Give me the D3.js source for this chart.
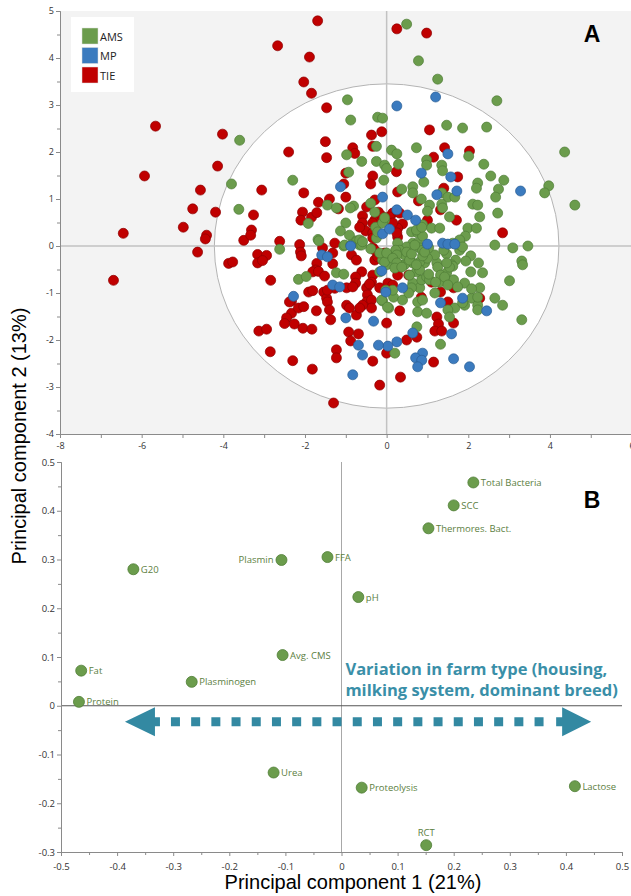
<!DOCTYPE html>
<html>
<head>
<meta charset="utf-8">
<script src="https://cdn.jsdelivr.net/npm/d3@7"></script>
<style>
  body { margin: 0; background: #ffffff; }
  svg { display: block; }
  .tick text { font-family: "Open Sans", sans-serif; fill: #333; }
</style>
</head>
<body>
<div class="chart"></div>
<script>
"use strict";

// ---- Panel A: PCA scores, by farm type ----
var groups = ["AMS", "MP", "TIE"];
var groupColors = { AMS: "#6b9c4c", MP: "#3b7bbf", TIE: "#c00000" };
var groupStroke = { AMS: "#4f7d36", MP: "#2a5d93", TIE: "#8c0000" };

var tiePoints = [
  [-1.69,4.79],[-2.67,4.26],[-1.89,4.02],[-2.03,3.49],[-1.84,3.25],[-5.66,2.55],[-4.02,2.38],[-2.40,2.0],
  [-4.14,1.70],[-5.93,1.49],[-4.56,1.19],[-3.06,1.19],[-2.03,1.13],[-4.75,0.79],[-4.19,0.72],[-3.26,0.66],
  [-1.67,0.93],[-2.06,0.72],[0.25,4.62],[0.98,4.53],
  [-6.45,0.27],[-4.98,0.40],[-4.41,0.23],[-4.44,0.15],[-4.63,-0.13],[-6.69,-0.73],[-3.87,-0.37],[-3.77,-0.34],
  [-3.5,0.12],[-3.31,0.34],[-3.33,0.23],[-3.16,-0.18],[-3.16,-0.36],[-2.94,-0.2],[-3.04,-0.31],[-2.84,-0.73],
  [-2.62,0.1],[-2.1,0.55],[-1.84,0.61],[-1.71,0.71],[-2.13,0.03],[-2.11,-0.13],[-2.09,-0.21],[-1.71,-0.37],
  [-1.74,-0.51],[-1.81,-0.55],[-1.91,-0.98],[-1.81,-0.95],[-2.33,-1.17],[-2.33,-1.43],[-2.16,-1.32],[-2.03,-1.29],
  [-1.72,-1.38],[-2.45,-1.53],[-2.5,-1.65],[-2.26,-1.66],[-2.05,-1.75],[-1.83,-1.77],[-3.13,-1.81],[-2.94,-1.77],
  [-2.85,-2.25],[-2.30,-2.44],[-1.82,-2.62],
  [-1.47,2.94],[-1.5,2.22],[-1.47,1.88],[-0.37,2.36],[-0.12,2.43],[-0.83,2.09],[-0.78,1.97],[-0.34,2.12],
  [-1.0,1.55],[-0.34,1.49],[-0.39,1.32],[-1.05,1.32],[-1.0,1.04],[-1.40,1.0],[-1.18,0.79],[-1.57,-0.04],
  [-0.49,0.83],[-0.59,0.64],[-0.59,0.49],[-0.51,0.32],[-0.29,0.55],[-0.12,0.64],[-0.29,0.98],
  [1.05,2.47],[1.15,1.89],[1.42,2.09],[2.03,2.02],[0.24,1.58],[1.74,1.47],[1.40,1.23],[0.27,1.15],
  [0.78,0.96],[1.32,0.77],[1.71,0.55],[0.15,0.70],[1.0,0.55],[0.39,0.47],[0.27,0.38],[0.27,0.19],[2.84,0.28],
  [2.28,-1.11],[1.64,-1.64],[1.5,-1.19],[1.32,-0.98],[1.64,-0.89],[1.23,-1.51],[1.27,-1.66],[1.18,-1.81],
  [1.35,-1.81],[0.85,-1.09],[0.74,-1.94],[0.49,-2.0],[0.0,-2.28],[1.15,-2.47],[0.34,-2.79],[-0.17,-2.96],
  [0.0,-1.64],[0.32,-1.38],[0.03,-0.79],[0.15,-0.83],[0.27,-0.62],[0.54,-0.62],[1.1,-0.77],
  [-1.32,-0.15],[-1.32,-0.38],[-1.67,-0.54],[-1.52,-0.64],[-1.54,-0.98],[-1.47,-1.11],[-1.45,-1.19],
  [-1.40,-1.36],[-1.37,-1.57],[-2.38,-1.19],[-1.30,-3.34],[-1.23,-2.21],[-1.23,-2.38],[-0.98,-0.89],
  [-1.27,-0.90],[-0.98,-1.26],[-0.91,-1.32],[-0.74,-1.47],[-0.93,-1.83],[-0.69,-1.87],[-0.88,-2.02],
  [-0.34,-2.45],[-0.86,-0.19],[-0.74,-0.30],[-0.61,-0.55],[-0.76,-0.66],[-0.76,-0.79],[-0.83,-0.87],
  [-0.49,-0.89],[-0.47,-1.04],[-0.49,-1.19],[-0.37,-1.15],[-0.37,-1.32],[-0.59,-1.26],[-0.66,-1.32],
  [-0.34,-0.62],[-0.37,-0.77],[-0.42,-0.81],[-0.29,-0.30],[-0.22,-0.23],[-0.05,-0.15],[-0.34,-0.04],
  [-0.2,0.72],[0.07,0.62],[0.32,0.70],[-0.17,-0.89],[-1.45,-0.94],[-1.27,0.06],[-0.29,-0.09],
  [-0.34,0.28],[-0.34,0.17],[-0.66,0.40],[-0.34,0.49],[0.15,0.49],[0.25,0.28]
];

var amsPoints = [
  [-3.6,2.25],[-3.8,1.32],[-2.30,1.40],[-3.62,0.78],[-2.62,-0.07],[-2.16,-0.71],[-1.97,-0.65],[-1.92,0.48],
  [-1.68,0.14],[0.49,4.72],[0.78,3.94],[1.25,3.55],[2.70,3.09],[4.36,2.0],[3.97,1.28],[3.87,1.13],[4.61,0.87],
  [-0.96,3.11],[-0.88,2.68],[-0.22,2.74],[-0.10,2.72],[-0.98,1.94],[-0.61,1.8],[-0.25,1.80],[-0.25,2.12],
  [-0.05,1.72],[-0.93,1.57],[-1.45,0.87],[-1.23,0.81],[-0.81,0.85],[-0.89,0.81],[-0.39,0.91],[-0.29,0.72],
  [-1.0,0.49],[-1.13,0.32],[-0.91,0.23],[-0.74,0.11],[-1.05,0.0],[-0.27,0.40],[-0.05,0.55],[-0.07,1.4],
  [1.47,2.57],[1.86,2.51],[2.45,2.53],[0.73,2.09],[0.12,2.04],[0.25,1.96],[2.01,1.91],[2.38,1.74],[0.29,1.74],
  [0.0,1.65],[0.98,1.83],[0.98,1.72],[1.35,1.72],[1.37,1.6],[2.55,1.49],[2.87,1.40],[0.91,1.36],[2.23,1.34],
  [2.2,1.23],[2.74,1.21],[2.67,1.04],[0.64,1.26],[0.64,1.13],[0.37,1.21],[1.35,1.13],[1.50,1.04],[1.67,1.04],
  [0.85,1.0],[1.05,0.87],[1.35,0.89],[1.37,0.81],[2.11,0.89],[2.23,0.87],[1.0,0.74],[2.72,0.70],[1.54,0.62],
  [2.28,0.62],[0.88,0.45],[1.1,0.38],[0.61,0.3],[1.99,0.38],[2.2,0.38],[1.93,0.21],[1.79,0.06],[0.76,0.28],
  [0.64,0.06],[2.65,0.02],[3.09,-0.04],[3.46,0.0],[0.27,0.06],
  [3.31,-0.32],[3.33,-0.40],[3.01,-0.74],[2.65,-1.11],[2.84,-1.26],[3.31,-1.57],[2.28,-0.89],[2.35,-0.57],
  [2.06,-0.55],[2.25,-0.36],[2.06,-0.21],[1.94,-0.32],[1.91,-0.79],[2.08,-1.11],[1.91,-1.26],[2.23,-1.26],
  [2.23,-1.36],[1.67,-1.32],[1.50,-1.36],[1.54,-1.51],[1.32,-2.09],[1.64,-0.72],[1.18,-1.0],[0.76,-1.40],
  [0.98,-1.43],[0.76,-1.19],[0.88,-1.15],[0.74,-1.72],[0.2,-2.28],[0.05,-1.32],[-0.1,-1.17],[0.0,-0.96],
  [0.17,-1.09],[0.39,-1.15],[0.64,-0.79],[0.81,-0.89],[1.47,-0.57],[1.3,-0.77],[0.86,-0.72],[1.69,-0.3],
  [1.59,-0.40],[1.23,-0.36],[1.25,-0.45],[1.79,-0.09],[1.79,0.02],[1.47,-0.17],[1.18,-0.19],[0.93,-0.36],
  [0.81,-0.34],[0.64,-0.36],[0.44,-0.40],[0.32,-0.4],[0.73,-0.55],[0.98,-0.66],[1.05,-0.72],[0.0,-0.40],
  [-0.1,-0.30],[0.44,-0.19],[0.07,-0.23],
  [-1.23,-0.57],[-1.05,-0.6],[-1.66,0.11],[-0.74,0.09],[-0.66,0.02],[-0.17,-0.55],[-0.12,-1.15],[0.02,-1.30],
  [-0.05,-0.34],[-0.17,-0.15],
  [1.3,0.38],[1.79,0.13],[1.86,-0.02],[1.62,0.06],[1.62,-0.43],[1.54,-0.45],[1.47,-0.36],[1.40,-0.09],
  [1.32,-0.62],[1.42,-0.66],[1.0,-0.26],[0.88,-0.21],[1.03,-0.04],[0.76,0.06],[0.81,-0.04],[0.88,-0.09],
  [0.93,-0.13],[0.49,-0.02],[0.32,-0.09],[0.22,-0.09],[0.25,-0.19],[0.49,-0.13],[0.56,-0.30],[0.81,-0.51],
  [1.03,-0.6],[1.20,-0.77],[0.73,-0.40],[0.56,-0.62],[0.61,-0.89],[1.5,-0.83],[1.74,-0.87],[1.86,-1.21],
  [2.23,-1.09],[2.08,-0.91],[0.54,-1.00],[0.15,-0.94],[-0.02,-0.94],
  [-1.03,0.02],[-0.88,0.02],[-0.39,-0.06],[-0.66,0.13],[-0.61,0.02],[-0.59,0.09],[-0.25,0.17],[-0.22,0.30],
  [-0.10,0.49],[-0.05,0.60],[0.0,-0.15],[0.15,-0.26],[0.25,-0.36],[0.2,-0.47],[0.37,-0.45],[0.61,-0.17],
  [0.69,0.02],[0.88,0.21],[0.73,0.34],[0.86,0.40]
];

var mpPoints = [
  [1.2,3.17],[0.25,2.98],[3.28,1.17],[-2.28,-1.07],[-1.59,-0.19],[-1.45,-0.23],[-1.13,1.26],[-0.1,1.04],
  [-0.1,0.26],[-0.88,0.0],[1.50,1.96],[0.85,1.55],[1.57,1.47],[1.72,1.17],[1.23,1.09],[0.25,0.77],
  [0.51,0.66],[0.71,0.55],[0.07,0.36],[1.0,0.04],[1.37,0.06],[1.50,0.04],[1.67,0.04],[2.45,-1.38],
  [1.86,-1.11],[1.59,-1.87],[1.64,-2.40],[2.03,-2.57],[1.32,-1.21],[0.64,-1.85],[0.25,-2.04],[0.03,-2.13],
  [0.88,-2.28],[0.71,-2.38],[0.86,-2.43],[0.76,-2.57],[0.39,-0.89],[-0.02,-0.98],[-1.32,-0.83],[-1.15,-0.87],
  [-1.0,-1.53],[-0.32,-1.6],[-0.69,-2.11],[-0.59,-2.32],[-0.2,-2.11],[-0.83,-2.74],[-0.12,-0.53]
];

var ellipseRx = 4.22;  // circle of the score plot, in PC1 units
var ellipseRy = 3.45;  // in PC2 units

// ---- Panel B: loadings ----
var loadingNames = ["Total Bacteria", "SCC", "Thermores. Bact.", "FFA", "pH", "Plasmin", "G20", "Avg. CMS",
  "Fat", "Protein", "Plasminogen", "Urea", "Proteolysis", "Lactose", "RCT"];
var pc1Loadings = [0.235, 0.20, 0.155, -0.025, 0.03, -0.107, -0.371, -0.105, -0.464, -0.468, -0.267, -0.121, 0.036, 0.416, 0.151];
var pc2Loadings = [0.458, 0.411, 0.364, 0.305, 0.223, 0.299, 0.280, 0.104, 0.072, 0.008, 0.049, -0.137, -0.168, -0.165, -0.286];
var labelSide = ["right", "right", "right", "right", "right", "left", "right", "right",
  "right", "right", "right", "right", "right", "right", "top"];

var arrowFrom = -0.386, arrowTo = 0.445, arrowY = -0.033;
var noteLines = ["Variation in farm type (housing,", "milking system, dominant breed)"];

var width = 631, height = 896;
var svg = d3.select(".chart").append("svg")
  .attr("width", width)
  .attr("height", height);

function fmt(d) {
  return d === 0 ? "0" : String(+d.toFixed(1));
}

drawScores();
drawLoadings();

function drawScores() {
  var x = d3.scaleLinear().domain([-8, 6]).range([60, 631.6]);
  var y = d3.scaleLinear().domain([5, -4]).range([11, 434]);
  var g = svg.append("g");

  // grey plot area
  g.append("rect")
    .attr("x", x(-8)).attr("y", y(5))
    .attr("width", width - x(-8)).attr("height", y(-4) - y(5))
    .style("fill", "#f3f3f3");

  // white circle
  g.append("ellipse")
    .attr("cx", x(0)).attr("cy", y(0))
    .attr("rx", x(ellipseRx) - x(0)).attr("ry", y(0) - y(ellipseRy))
    .style("fill", "#ffffff")
    .style("stroke", "#b4b4b4")
    .style("stroke-width", 1);

  // zero lines
  g.append("line")
    .attr("x1", x(0)).attr("x2", x(0)).attr("y1", y(5)).attr("y2", y(-4))
    .style("stroke", "#c2c2c2").style("stroke-width", 1.5);
  g.append("line")
    .attr("x1", x(-8)).attr("x2", width).attr("y1", y(0)).attr("y2", y(0))
    .style("stroke", "#c2c2c2").style("stroke-width", 1.5);

  // axes
  var yMinor = g.append("g").attr("transform", "translate(" + x(-8) + ",0)")
    .call(d3.axisLeft(y).tickValues(d3.range(-3.5, 5, 1)).tickSize(3).tickFormat(""));
  var yMajor = g.append("g").attr("transform", "translate(" + x(-8) + ",0)")
    .call(d3.axisLeft(y).tickValues(d3.range(-4, 5.1, 1)).tickSize(4).tickSizeOuter(0).tickFormat(fmt));
  var xMajor = g.append("g").attr("transform", "translate(0," + y(-4) + ")")
    .call(d3.axisBottom(x).tickValues(d3.range(-8, 6.1, 1)).tickSize(4).tickSizeOuter(0)
      .tickFormat(function (d) { return d % 2 === 0 ? fmt(d) : ""; }));
  [yMinor, yMajor, xMajor].forEach(function (a) {
    a.select(".domain").style("stroke", "#8a8a8a");
    a.selectAll(".tick line").style("stroke", "#8a8a8a");
    a.selectAll("text").style("font-size", "9px");
  });
  yMajor.selectAll("text").attr("x", -6);
  xMajor.selectAll("text").attr("y", 9);

  // points
  var all = [];
  tiePoints.forEach(function (p) { all.push({ g: "TIE", x: p[0], y: p[1] }); });
  amsPoints.forEach(function (p) { all.push({ g: "AMS", x: p[0], y: p[1] }); });
  mpPoints.forEach(function (p) { all.push({ g: "MP", x: p[0], y: p[1] }); });

  g.append("g").selectAll("circle")
    .data(all)
    .enter().append("circle")
    .attr("cx", function (d) { return x(d.x); })
    .attr("cy", function (d) { return y(d.y); })
    .attr("r", 5)
    .style("fill", function (d) { return groupColors[d.g]; })
    .style("stroke", function (d) { return groupStroke[d.g]; })
    .style("stroke-width", 0.7);

  // legend
  var leg = g.append("g").attr("transform", "translate(71,17)");
  leg.append("rect").attr("width", 63).attr("height", 75).style("fill", "#ffffff");
  groups.forEach(function (name, i) {
    leg.append("rect")
      .attr("x", 11).attr("y", 11 + i * 19.5)
      .attr("width", 16).attr("height", 16)
      .style("fill", groupColors[name])
      .style("stroke", "#dddddd").style("stroke-width", 0.5);
    leg.append("text")
      .attr("x", 29).attr("y", 23.5 + i * 19.5)
      .style("font-family", "'Open Sans', sans-serif")
      .style("font-size", "11px")
      .style("fill", "#222")
      .text(name);
  });

  g.append("text")
    .attr("x", 592).attr("y", 42)
    .attr("text-anchor", "middle")
    .style("font-family", "'Liberation Sans', Arial, sans-serif")
    .style("font-weight", "bold")
    .style("font-size", "23px")
    .text("A");
}

function drawLoadings() {
  var x = d3.scaleLinear().domain([-0.5, 0.5]).range([61, 622]);
  var y = d3.scaleLinear().domain([0.5, -0.3]).range([462, 852]);
  var g = svg.append("g");

  g.append("line")
    .attr("x1", x(0)).attr("x2", x(0)).attr("y1", y(0.5)).attr("y2", y(-0.3))
    .style("stroke", "#a8a8a8").style("stroke-width", 1);
  g.append("line")
    .attr("x1", x(-0.5)).attr("x2", x(0.5)).attr("y1", y(0)).attr("y2", y(0))
    .style("stroke", "#555555").style("stroke-width", 1);

  var yMinor = g.append("g").attr("transform", "translate(" + x(-0.5) + ",0)")
    .call(d3.axisLeft(y).tickValues(d3.range(-0.25, 0.5, 0.1)).tickSize(3).tickFormat(""));
  var yMajor = g.append("g").attr("transform", "translate(" + x(-0.5) + ",0)")
    .call(d3.axisLeft(y).tickValues(d3.range(-0.3, 0.51, 0.1)).tickSize(4).tickSizeOuter(0).tickFormat(fmt));
  var xMinor = g.append("g").attr("transform", "translate(0," + y(-0.3) + ")")
    .call(d3.axisBottom(x).tickValues(d3.range(-0.45, 0.5, 0.1)).tickSize(3).tickFormat(""));
  var xMajor = g.append("g").attr("transform", "translate(0," + y(-0.3) + ")")
    .call(d3.axisBottom(x).tickValues(d3.range(-0.5, 0.51, 0.1)).tickSize(4).tickSizeOuter(0).tickFormat(fmt));
  [yMinor, yMajor, xMinor, xMajor].forEach(function (a) {
    a.select(".domain").style("stroke", "#8a8a8a");
    a.selectAll(".tick line").style("stroke", "#8a8a8a");
    a.selectAll("text").style("font-size", "9.5px");
  });
  yMajor.selectAll("text").attr("x", -6);
  xMajor.selectAll("text").attr("y", 11);

  // loadings
  var rows = loadingNames.map(function (n, i) {
    return { name: n, x: pc1Loadings[i], y: pc2Loadings[i], side: labelSide[i] };
  });
  var pts = g.append("g").selectAll("g")
    .data(rows)
    .enter().append("g")
    .attr("transform", function (d) { return "translate(" + x(d.x) + "," + y(d.y) + ")"; });
  pts.append("circle")
    .attr("r", 5.5)
    .style("fill", "#6b9c4c")
    .style("stroke", "#4f7d36")
    .style("stroke-width", 0.8);
  pts.append("text")
    .attr("x", function (d) { return d.side === "right" ? 7.5 : d.side === "left" ? -8 : 0; })
    .attr("y", function (d) { return d.side === "top" ? -9 : 3.5; })
    .attr("text-anchor", function (d) { return d.side === "right" ? "start" : d.side === "left" ? "end" : "middle"; })
    .style("font-family", "'Open Sans', sans-serif")
    .style("font-size", "9.5px")
    .style("fill", "#5c8041")
    .text(function (d) { return d.name; });

  // double arrow
  var arrowColor = "#3389a2";
  var ay = y(arrowY);
  g.append("line")
    .attr("x1", x(arrowFrom) + 46).attr("x2", x(arrowTo) - 41)
    .attr("y1", ay).attr("y2", ay)
    .style("stroke", arrowColor)
    .style("stroke-width", 9)
    .style("stroke-dasharray", "9 11.2");
  var lx = x(arrowFrom), rx = x(arrowTo);
  g.append("path")
    .attr("d", "M" + lx + "," + ay + "L" + (lx + 30) + "," + (ay - 14.5) + "L" + (lx + 30) + "," + (ay - 4.5) +
      "L" + (lx + 35) + "," + (ay - 4.5) + "L" + (lx + 35) + "," + (ay + 4.5) + "L" + (lx + 30) + "," + (ay + 4.5) +
      "L" + (lx + 30) + "," + (ay + 14.5) + "Z")
    .style("fill", arrowColor);
  g.append("path")
    .attr("d", "M" + rx + "," + ay + "L" + (rx - 29) + "," + (ay - 14.5) + "L" + (rx - 29) + "," + (ay - 4.5) +
      "L" + (rx - 35) + "," + (ay - 4.5) + "L" + (rx - 35) + "," + (ay + 4.5) + "L" + (rx - 29) + "," + (ay + 4.5) +
      "L" + (rx - 29) + "," + (ay + 14.5) + "Z")
    .style("fill", arrowColor);

  noteLines.forEach(function (t, i) {
    g.append("text")
      .attr("x", x(0.007)).attr("y", 675 + i * 20.5)
      .style("font-family", "'Open Sans', sans-serif")
      .style("font-weight", "bold")
      .style("font-size", "16.5px")
      .style("fill", "#3a8fa8")
      .text(t);
  });

  g.append("text")
    .attr("x", 592).attr("y", 508)
    .attr("text-anchor", "middle")
    .style("font-family", "'Liberation Sans', Arial, sans-serif")
    .style("font-weight", "bold")
    .style("font-size", "23px")
    .text("B");

  // axis titles
  svg.append("text")
    .attr("transform", "translate(26,436) rotate(-90)")
    .attr("text-anchor", "middle")
    .style("font-family", "'Liberation Sans', Arial, sans-serif")
    .style("font-size", "20px")
    .text("Principal component 2 (13%)");
  svg.append("text")
    .attr("x", 353).attr("y", 889)
    .attr("text-anchor", "middle")
    .style("font-family", "'Liberation Sans', Arial, sans-serif")
    .style("font-size", "20px")
    .text("Principal component 1 (21%)");
}
</script>
</body>
</html>
